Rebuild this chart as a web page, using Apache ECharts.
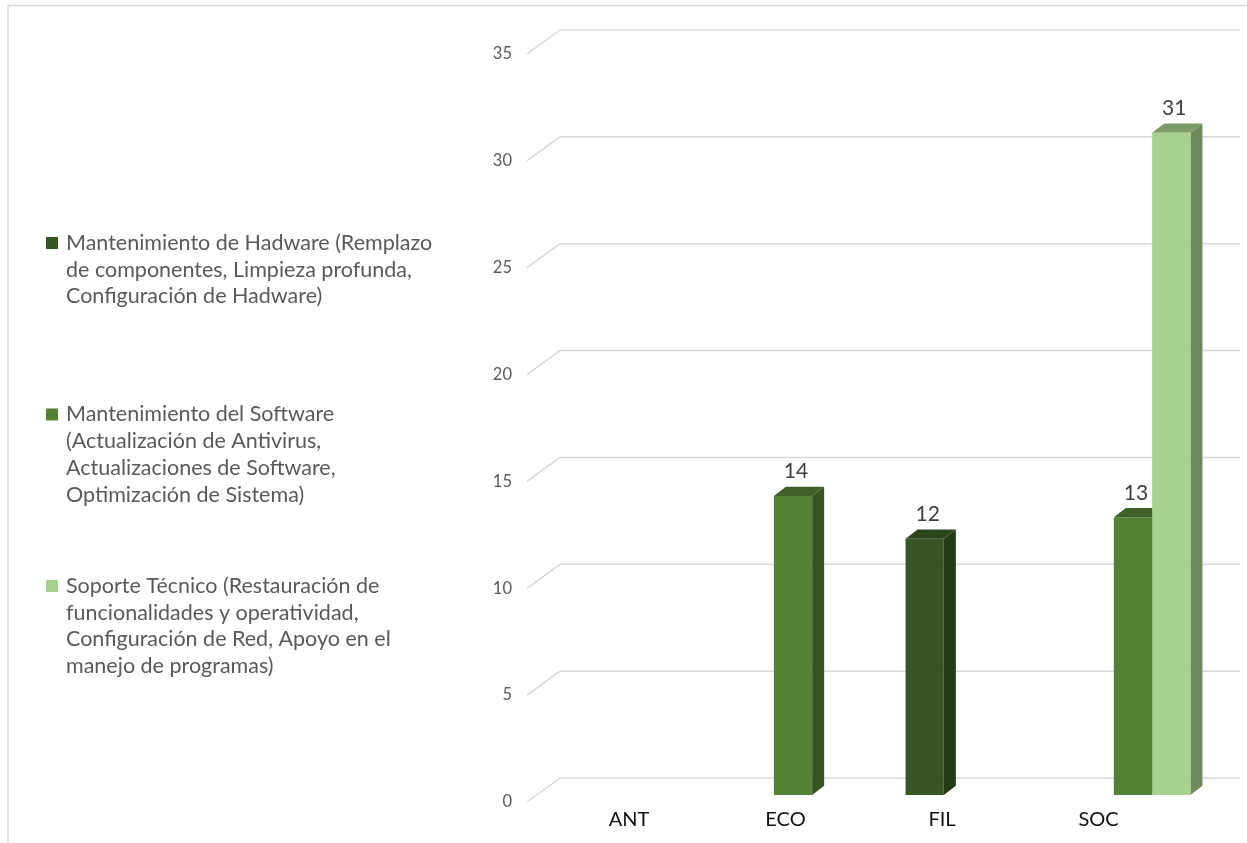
<!DOCTYPE html>
<html>
<head>
<meta charset="utf-8">
<script src="https://cdn.jsdelivr.net/npm/echarts@6/dist/echarts.min.js"></script>
<style>
html,body{margin:0;padding:0;background:#fff;}
#chart{width:1247px;height:843px;}
</style>
</head>
<body>
<div id="chart"></div>
<script>
// ---- data ----
const categories = ['ANT', 'ECO', 'FIL', 'SOC'];
const seriesNames = [
  'Mantenimiento de Hadware (Remplazo de componentes, Limpieza profunda, Configuración de Hadware)',
  'Mantenimiento del Software (Actualización de Antivirus, Actualizaciones de Software, Optimización de Sistema)',
  'Soporte Técnico (Restauración de funcionalidades y operatividad, Configuración de Red, Apoyo en el manejo de programas)'
];
const legendLines = [
  ['Mantenimiento de Hadware (Remplazo', 'de componentes, Limpieza profunda,', 'Configuración de Hadware)'],
  ['Mantenimiento del Software', '(Actualización de Antivirus,', 'Actualizaciones de Software,', 'Optimización de Sistema)'],
  ['Soporte Técnico (Restauración de', 'funcionalidades y operatividad,', 'Configuración de Red, Apoyo en el', 'manejo de programas)']
];
const hardware = [null, null, 12, null];
const software = [null, 14, null, 13];
const soporte  = [null, null, null, 31];
const yTicks = [0, 5, 10, 15, 20, 25, 30, 35];

// ---- styles ----
const FONT = 'Lato';
const faceColors = [
  { front: '#375623', top: '#2c461c', side: '#253b17' },
  { front: '#548235', top: '#3f6228', side: '#375522' },
  { front: '#a9d18e', top: '#7d9b69', side: '#6e885c' }
];
const DX = 12, DY = -9.3;
const LH = 26.7;

function barRenderer(slot, colors) {
  return function (params, api) {
    const v = api.value(1);
    if (v == null || isNaN(v)) return null;
    const cat = api.value(0);
    const base = api.coord([cat, 0]);
    const top = api.coord([cat, v]);
    const band = api.size([1, 0])[0];
    const w = band * 0.2253;
    const left = base[0] - 1.5 * w + slot * w;
    const right = left + w;
    const yt = top[1], yb = base[1];
    return {
      type: 'group',
      children: [
        { type: 'polygon', shape: { points: [[right, yt], [right + DX, yt + DY], [right + DX, yb + DY], [right, yb]] },
          style: { fill: colors.side } },
        { type: 'polygon', shape: { points: [[left, yt], [left + DX, yt + DY], [right + DX, yt + DY], [right, yt]] },
          style: { fill: colors.top } },
        { type: 'rect', shape: { x: left, y: yt, width: w, height: yb - yt },
          style: { fill: colors.front } },
        { type: 'text', style: { text: String(v), x: left + w / 2 + 3, y: yt + DY - 15,
          fill: '#404040', font: '21px ' + FONT, align: 'center', verticalAlign: 'middle' } }
      ]
    };
  };
}

function gridRenderer(params, api) {
  const v = api.value(1);
  const p = api.coord([0, v]);
  const bx = p[0] + 33, by = p[1] - 24;
  const style = { stroke: '#d9d9d9', lineWidth: 1.5 };
  return {
    type: 'group',
    children: [
      { type: 'line', shape: { x1: p[0], y1: p[1], x2: bx, y2: by }, style: style },
      { type: 'line', shape: { x1: bx, y1: by, x2: api.getWidth() - 7, y2: by }, style: style }
    ]
  };
}

const seriesData = [hardware, software, soporte];

function legendFor(i, topPx) {
  const n = legendLines[i].length;
  const h = 12 + (n - 1) * LH;
  return {
    data: [seriesNames[i]],
    left: 46,
    top: topPx,
    padding: 0,
    orient: 'vertical',
    itemWidth: 15,
    itemHeight: h,
    icon: 'path://M0,0h12v12h-12zM15,' + h,
    selectedMode: false,
    formatter: function () { return legendLines[i].join('\n'); },
    textStyle: { color: '#595959', fontFamily: FONT, fontSize: 21.5, lineHeight: LH }
  };
}

const option = {
  animation: false,
  backgroundColor: '#ffffff',
  graphic: [{
    type: 'rect', shape: { x: 8, y: 5.5, width: 1300, height: 900 },
    style: { fill: 'none', stroke: '#d9d9d9', lineWidth: 1.5 }, silent: true
  }],
  legend: [
    legendFor(0, 243 - LH / 2),
    legendFor(1, 414.5 - LH / 2),
    legendFor(2, 586 - LH / 2)
  ],
  grid: [
    { left: 538, width: 680, top: 47.4, height: 747.6, containLabel: false, outerBoundsMode: 'none' },
    { left: 527, width: 33, top: 54, height: 748, containLabel: false, outerBoundsMode: 'none' },
    { left: 550.75, width: 626, top: 700, height: 102, containLabel: false, outerBoundsMode: 'none' }
  ],
  xAxis: [
    { gridIndex: 0, type: 'category', data: categories, show: false },
    { gridIndex: 1, type: 'value', min: 0, max: 1, show: false },
    { gridIndex: 2, type: 'category', data: categories,
      axisLine: { show: false }, axisTick: { show: false }, splitLine: { show: false },
      axisLabel: { margin: 8, color: '#111111', fontFamily: FONT, fontSize: 20 } }
  ],
  yAxis: [
    { gridIndex: 0, type: 'value', min: 0, max: 35, interval: 5, show: false },
    { gridIndex: 1, type: 'value', min: 0, max: 35, interval: 5,
      axisLine: { show: false }, axisTick: { show: false }, splitLine: { show: false },
      axisLabel: { margin: 15, color: '#595959', fontFamily: FONT, fontSize: 16.5 } },
    { gridIndex: 2, type: 'value', min: 0, max: 1, show: false }
  ],
  series: [
    {
      type: 'custom', xAxisIndex: 1, yAxisIndex: 1, clip: false, silent: true, z: 1,
      data: yTicks.map(function (v) { return [0, v]; }),
      renderItem: gridRenderer
    }
  ].concat(seriesData.map(function (arr, i) {
    return {
      type: 'custom', name: seriesNames[i], xAxisIndex: 0, yAxisIndex: 0, clip: false, z: 5,
      itemStyle: { color: faceColors[i].front },
      data: arr.map(function (v, j) { return [j, v]; }),
      renderItem: barRenderer(i, faceColors[i])
    };
  }))
};

const chart = echarts.init(document.getElementById('chart'), null, { renderer: 'canvas' });
chart.setOption(option);
</script>
</body>
</html>
